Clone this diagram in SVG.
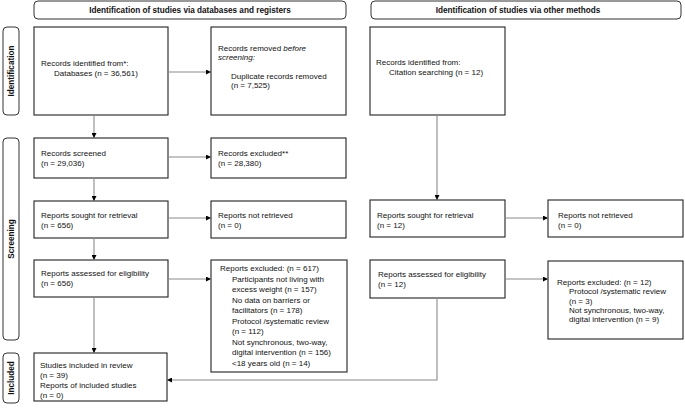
<svg xmlns="http://www.w3.org/2000/svg" width="685" height="409" viewBox="0 0 685 409">
<defs>
<marker id="ah" viewBox="0 0 10 10" refX="10" refY="5" markerWidth="5" markerHeight="5" markerUnits="userSpaceOnUse" orient="auto">
<path d="M0,0 L10,5 L0,10 z" fill="#000"/>
</marker>
<style>
.hdr{fill:#fff;stroke:#333;stroke-width:1}
.box{fill:#fff;stroke:#222;stroke-width:1.1}
.t{font-family:"Liberation Sans",Arial,sans-serif;font-size:8px;fill:#111}
.b{font-family:"Liberation Sans",Arial,sans-serif;font-size:8.2px;font-weight:bold;fill:#111}
.c{fill:none;stroke:#8a8a8a;stroke-width:1.1;marker-end:url(#ah)}
</style>
</defs>
<rect width="685" height="409" fill="#fff"/>

<g id="header-left"><rect class="hdr" x="34" y="1" width="312" height="18" rx="4"/><text class="b" x="190" y="13" text-anchor="middle">Identification of studies via databases and registers</text></g>
<g id="header-right"><rect class="hdr" x="371" y="1" width="310" height="18" rx="4"/><text class="b" x="518" y="13" text-anchor="middle">Identification of studies via other methods</text></g>

<g id="phase-identification"><rect class="hdr" x="3" y="27" width="16" height="88" rx="4"/><text class="b" transform="translate(14,71) rotate(-90)" text-anchor="middle">Identification</text></g>
<g id="phase-screening"><rect class="hdr" x="3" y="138" width="16" height="202" rx="4"/><text class="b" transform="translate(14,239) rotate(-90)" text-anchor="middle">Screening</text></g>
<g id="phase-included"><rect class="hdr" x="3" y="353" width="16" height="50" rx="4"/><text class="b" transform="translate(14,378) rotate(-90)" text-anchor="middle">Included</text></g>

<g id="db-identified"><rect class="box" x="34" y="27" width="134" height="88"/><text class="t" x="41" y="65.5">Records identified from*:</text><text class="t" x="54" y="76">Databases (n = 36,561)</text></g>
<g id="db-removed"><rect class="box" x="211" y="27" width="135" height="88"/><text class="t" x="218" y="50.5">Records removed <tspan font-style="italic">before</tspan></text><text class="t" x="218" y="60" font-style="italic">screening:</text><text class="t" x="231" y="78.5">Duplicate records removed</text><text class="t" x="231" y="88">(n = 7,525)</text></g>
<g id="db-screened"><rect class="box" x="34" y="138" width="134" height="40"/><text class="t" x="41" y="155.5">Records screened</text><text class="t" x="41" y="165.5">(n = 29,036)</text></g>
<g id="db-excluded"><rect class="box" x="211" y="138" width="135" height="40"/><text class="t" x="218" y="155.5">Records excluded**</text><text class="t" x="218" y="165.5">(n = 28,380)</text></g>
<g id="db-sought"><rect class="box" x="34" y="201" width="134" height="37"/><text class="t" x="41" y="217.5">Reports sought for retrieval</text><text class="t" x="41" y="228">(n = 656)</text></g>
<g id="db-notretrieved"><rect class="box" x="211" y="201" width="135" height="37"/><text class="t" x="218" y="217.5">Reports not retrieved</text><text class="t" x="218" y="228">(n = 0)</text></g>
<g id="db-assessed"><rect class="box" x="34" y="260" width="134" height="37"/><text class="t" x="41" y="276">Reports assessed for eligibility</text><text class="t" x="41" y="286">(n = 656)</text></g>
<g id="db-reportsexcluded"><rect class="box" x="211" y="260" width="136" height="112"/>
<text class="t" x="220" y="271">Reports excluded: (n = 617)</text>
<text class="t" x="232" y="281.6">Participants not living with</text>
<text class="t" x="232" y="292.1">excess weight (n = 157)</text>
<text class="t" x="232" y="302.7">No data on barriers or</text>
<text class="t" x="232" y="313.2">facilitators (n = 178)</text>
<text class="t" x="232" y="323.8">Protocol /systematic review</text>
<text class="t" x="232" y="334.3">(n = 112)</text>
<text class="t" x="232" y="344.9">Not synchronous, two-way,</text>
<text class="t" x="232" y="355.4">digital intervention (n = 156)</text>
<text class="t" x="232" y="366">&lt;18 years old (n = 14)</text></g>
<g id="included"><rect class="box" x="34" y="353" width="133" height="48"/><text class="t" x="40" y="367.5">Studies included in review</text><text class="t" x="40" y="377.5">(n = 39)</text><text class="t" x="40" y="388">Reports of included studies</text><text class="t" x="40" y="398">(n = 0)</text></g>

<g id="other-identified"><rect class="box" x="370" y="27" width="135" height="88"/><text class="t" x="376" y="65">Records identified from:</text><text class="t" x="389" y="75">Citation searching (n = 12)</text></g>
<g id="other-sought"><rect class="box" x="370" y="200" width="135" height="37"/><text class="t" x="377" y="217.5">Reports sought for retrieval</text><text class="t" x="377" y="228">(n = 12)</text></g>
<g id="other-notretrieved"><rect class="box" x="548" y="200" width="135" height="37"/><text class="t" x="558" y="217.5">Reports not retrieved</text><text class="t" x="558" y="228">(n = 0)</text></g>
<g id="other-assessed"><rect class="box" x="370" y="260" width="135" height="38"/><text class="t" x="378" y="276.5">Reports assessed for eligibility</text><text class="t" x="378" y="286.5">(n = 12)</text></g>
<g id="other-reportsexcluded"><rect class="box" x="548" y="261" width="135" height="78"/>
<text class="t" x="557" y="285">Reports excluded: (n = 12)</text>
<text class="t" x="569" y="294.4">Protocol /systematic review</text>
<text class="t" x="569" y="303.7">(n = 3)</text>
<text class="t" x="569" y="313">Not synchronous, two-way,</text>
<text class="t" x="569" y="322.4">digital intervention (n = 9)</text></g>

<g id="connectors">
<path class="c" d="M168,72 H211"/>
<path class="c" d="M94,115 V138"/>
<path class="c" d="M168,157 H211"/>
<path class="c" d="M94,178 V201"/>
<path class="c" d="M168,218 H211"/>
<path class="c" d="M94,238 V260"/>
<path class="c" d="M168,279 H211"/>
<path class="c" d="M94,297 V353"/>
<path class="c" d="M437,115 V200"/>
<path class="c" d="M505,218 H548"/>
<path class="c" d="M505,279 H548"/>
<path class="c" d="M437,298 V380 H167"/>
</g>
</svg>
